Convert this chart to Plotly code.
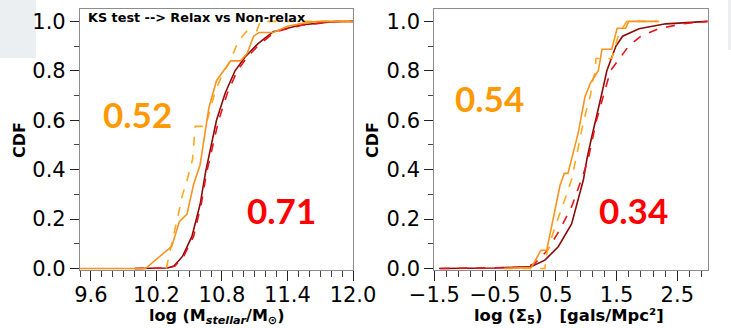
import plotly.graph_objects as go

W, H = 731, 328

# ---------------- data: left panel (log stellar mass) ----------------
m_relax_x = [9.5, 10.1, 10.34, 10.41, 10.48, 10.54, 10.60, 10.63, 10.68, 10.75, 10.88, 10.97, 11.03, 11.09, 11.14, 11.27, 11.4, 11.55, 11.68, 12.0]
m_relax_y = [0.0, 0.0, 0.09, 0.19, 0.22, 0.34, 0.42, 0.51, 0.65, 0.76, 0.84, 0.84, 0.87, 0.94, 0.955, 0.955, 0.98, 0.993, 1.0, 1.0]

m_relax2_x = [10.29, 10.44, 10.47, 10.53, 10.555, 10.65, 10.74, 10.80, 10.88, 10.95, 11.03, 11.12, 11.15, 12.0]
m_relax2_y = [0.0, 0.30, 0.34, 0.44, 0.575, 0.575, 0.72, 0.78, 0.845, 0.92, 0.962, 0.962, 1.0, 1.0]

m_nonrelax_x = [10.0, 10.30, 10.36, 10.44, 10.525, 10.60, 10.65, 10.69, 10.75, 10.83, 10.92, 11.01, 11.13, 11.27, 11.52, 11.82, 12.0]
m_nonrelax_y = [0.0, 0.002, 0.01, 0.05, 0.13, 0.26, 0.39, 0.47, 0.60, 0.71, 0.80, 0.855, 0.91, 0.958, 0.985, 0.999, 1.0]

m_nonrelax2_x = [10.0, 10.30, 10.37, 10.45, 10.54, 10.61, 10.66, 10.70, 10.77, 10.85, 10.94, 11.03, 11.15, 11.29, 11.54, 11.84, 12.0]
m_nonrelax2_y = [0.0, 0.002, 0.01, 0.05, 0.13, 0.26, 0.39, 0.47, 0.60, 0.71, 0.80, 0.855, 0.91, 0.958, 0.985, 0.999, 1.0]

# ---------------- data: right panel (log Sigma_5) ----------------
s_relax_x = [-0.35, 0.10, 0.24, 0.26, 0.35, 0.57, 0.64, 0.70, 0.87, 0.98, 1.07, 1.20, 1.26, 1.42, 1.51, 1.65, 1.70, 2.17]
s_relax_y = [0.0, 0.005, 0.067, 0.074, 0.074, 0.337, 0.385, 0.385, 0.55, 0.695, 0.75, 0.80, 0.887, 0.887, 0.972, 0.972, 1.0, 1.0]

s_relax2_x = [-0.35, 0.32, 0.35, 0.49, 0.65, 0.76, 0.87, 0.955, 1.04, 1.07, 1.10, 1.15, 1.16, 1.42, 1.54, 1.67, 2.2]
s_relax2_y = [0.0, 0.0, 0.061, 0.17, 0.28, 0.36, 0.49, 0.594, 0.675, 0.70, 0.75, 0.80, 0.85, 0.85, 0.952, 1.0, 1.0]

s_nonrelax_x = [-1.42, -0.5, 0.10, 0.32, 0.54, 0.76, 0.955, 1.01, 1.08, 1.16, 1.25, 1.34, 1.49, 1.60, 1.87, 2.31, 2.85, 3.0]
s_nonrelax_y = [0.0, 0.002, 0.008, 0.034, 0.088, 0.18, 0.36, 0.44, 0.52, 0.60, 0.70, 0.80, 0.90, 0.94, 0.97, 0.99, 1.0, 1.0]

s_nonrelax2_x = [-1.40, -0.5, 0.0, 0.15, 0.35, 0.55, 0.76, 0.95, 1.03, 1.17, 1.28, 1.40, 1.70, 1.90, 2.19, 2.58, 3.0]
s_nonrelax2_y = [0.0, 0.002, 0.005, 0.02, 0.07, 0.15, 0.25, 0.38, 0.44, 0.60, 0.70, 0.80, 0.90, 0.94, 0.97, 0.99, 1.0]

ks_values = ["0.52", "0.71", "0.54", "0.34"]
y_ticks = [0.0, 0.2, 0.4, 0.6, 0.8, 1.0]

C_OR = "#f7931e"
C_OR2 = "#fca91c"
C_DR = "#8b0a0a"
C_RD = "#e8141c"

fig = go.Figure()

def add(x, y, color, dash, xa, ya):
    fig.add_trace(go.Scatter(x=x, y=y, mode="lines", xaxis=xa, yaxis=ya,
                             line=dict(color=color, width=1.6, dash=dash),
                             showlegend=False, hoverinfo="skip"))

add(m_nonrelax_x, m_nonrelax_y, C_DR, "solid", "x", "y")
add(m_nonrelax2_x, m_nonrelax2_y, C_RD, "dash", "x", "y")
add(m_relax2_x, m_relax2_y, C_OR2, "dash", "x", "y")
add(m_relax_x, m_relax_y, C_OR, "solid", "x", "y")

add(s_nonrelax_x, s_nonrelax_y, C_DR, "solid", "x2", "y2")
add(s_nonrelax2_x, s_nonrelax2_y, C_RD, "dash", "x2", "y2")
add(s_relax2_x, s_relax2_y, C_OR2, "dash", "x2", "y2")
add(s_relax_x, s_relax_y, C_OR, "solid", "x2", "y2")

def px(v):
    return v / W

def py(v):
    return 1 - v / H

tickfont = dict(family="DejaVu Sans", size=21, color="black")
common_y = dict(range=[-0.006, 1.05], tickmode="array", tickvals=y_ticks,
                ticktext=[f"{v:.1f}" for v in y_ticks],
                ticks="outside", ticklen=9, tickwidth=1, tickcolor="#222",
                minor=dict(dtick=0.1, tick0=0, ticks="outside", ticklen=5, tickcolor="#444"),
                showline=True, linecolor="#8c8c8c", linewidth=1.2, mirror=True,
                showgrid=False, zeroline=False, tickfont=tickfont, automargin=False,
                domain=[py(270), py(9)])
common_x = dict(ticks="outside", ticklen=10, tickwidth=1, tickcolor="#222",
                showline=True, linecolor="#8c8c8c", linewidth=1.2, mirror=True,
                showgrid=False, zeroline=False, tickfont=tickfont, automargin=False,
                ticklabelstandoff=-4)

fig.update_layout(
    width=W, height=H, margin=dict(l=0, r=0, t=0, b=0, autoexpand=False),
    paper_bgcolor="white", plot_bgcolor="white",
    xaxis=dict(common_x, range=[9.5, 12.0], tickmode="linear", tick0=9.6, dtick=0.6,
               tickformat=".1f",
               minor=dict(dtick=0.1, tick0=9.6, ticks="outside", ticklen=6, tickcolor="#444"),
               domain=[px(80), px(353)], anchor="y"),
    yaxis=dict(common_y, anchor="x"),
    xaxis2=dict(common_x, range=[-1.5, 3.0], tickmode="linear", tick0=-1.5, dtick=1.0,
                tickformat=".1f",
                minor=dict(dtick=0.2, tick0=-1.5, ticks="outside", ticklen=6, tickcolor="#444"),
                domain=[px(434.3), px(707.7)], anchor="y2"),
    yaxis2=dict(common_y, anchor="x2"),
    shapes=[
        dict(type="rect", xref="paper", yref="paper", x0=0, x1=px(36), y0=py(58), y1=1,
             fillcolor="#eceff1", line=dict(width=0), layer="below"),
        dict(type="rect", xref="paper", yref="paper", x0=px(728), x1=1, y0=py(50), y1=1,
             fillcolor="#eceff1", line=dict(width=0), layer="below"),
    ],
)

ann = []
def text(t, x, y, size, color="black", family="DejaVu Sans", angle=0, xanchor="center"):
    ann.append(dict(text=t, x=px(x), y=py(y), xref="paper", yref="paper", showarrow=False,
                    xanchor=xanchor, yanchor="middle", textangle=angle,
                    font=dict(family=family, size=size, color=color)))

text("<b>KS test --> Relax vs Non-relax</b>", 86, 17, 12.8, xanchor="left")
text("<b>CDF</b>", 20, 140, 16, angle=-90)
text("<b>CDF</b>", 373, 140, 16, angle=-90)
text("<b>log (M<sub><i>stellar</i></sub>/M<sub>\u2299</sub>)</b>", 216.5, 316, 16)
text("<b>log (\u03a3<sub>5</sub>)\u00a0\u00a0\u00a0[gals/Mpc\u00b2]</b>", 569, 316, 16.4)

num_font = "Lato"
text("<b>" + ks_values[0] + "</b>", 137, 114, 35, color="#ff9900", family=num_font)
text("<b>" + ks_values[1] + "</b>", 281, 210, 35, color="#ff0000", family=num_font)
text("<b>" + ks_values[2] + "</b>", 489, 97.5, 35, color="#ff9900", family=num_font)
text("<b>" + ks_values[3] + "</b>", 633, 210, 35, color="#ff0000", family=num_font)

fig.update_layout(annotations=ann)
fig.write_html("out.html")
